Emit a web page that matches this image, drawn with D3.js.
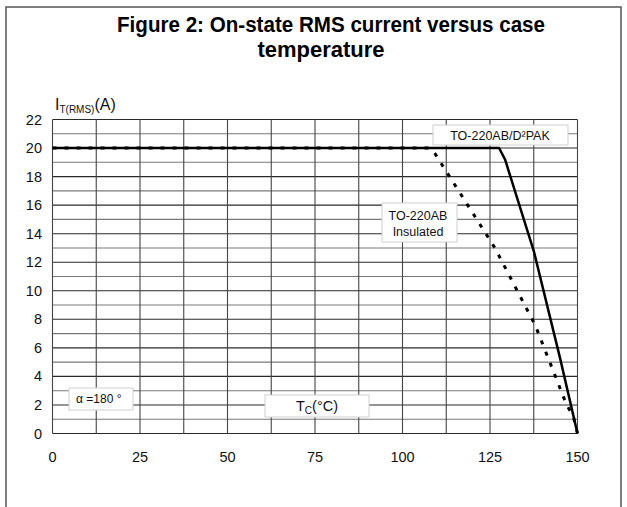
<!DOCTYPE html>
<html lang="en">
<head>
<meta charset="UTF-8">
<title>Figure 2: On-state RMS current versus case temperature</title>
<script src="https://d3js.org/d3.v7.min.js"></script>
<style>
  body { margin: 0; background: #fff; }
  svg { display: block; font-family: "Liberation Sans", Arial, sans-serif; }
</style>
</head>
<body>
<svg id="chart" width="627" height="507"></svg>
<script>
  // tick labels
  const xTickValues = [0, 25, 50, 75, 100, 125, 150];
  const yTickValues = [0, 2, 4, 6, 8, 10, 12, 14, 16, 18, 20, 22];

  // TO-220AB/D²PAK (solid)
  const d2pakTemp = [0, 127.6, 129.3, 137.6, 145.0, 150];
  const d2pakCurrent = [20, 20, 19.2, 12.7, 5.3, 0];

  // TO-220AB Insulated (dotted)
  const insTemp = [0, 107.5, 109.3, 126.4, 137.9, 146.9, 148.8, 150];
  const insCurrent = [20, 20, 19.6, 13.0, 7.6, 2.0, 1.2, 0];

  const svg = d3.select("#chart");

  // outer frame
  svg.append("rect")
    .attr("x", 6).attr("y", 7)
    .attr("width", 615).attr("height", 520)
    .attr("fill", "none").attr("stroke", "#555").attr("stroke-width", 1.5);

  // title
  svg.append("text")
    .attr("x", 331).attr("y", 32)
    .attr("text-anchor", "middle")
    .attr("font-size", 22).attr("font-weight", "bold")
    .attr("textLength", 428).attr("lengthAdjust", "spacingAndGlyphs")
    .text("Figure 2: On-state RMS current versus case");
  svg.append("text")
    .attr("x", 321).attr("y", 57)
    .attr("text-anchor", "middle")
    .attr("font-size", 22).attr("font-weight", "bold")
    .attr("textLength", 127).attr("lengthAdjust", "spacingAndGlyphs")
    .text("temperature");

  const x = d3.scaleLinear().domain([0, 150]).range([52.5, 577.5]);
  const y = d3.scaleLinear().domain([0, 22]).range([433.5, 119.5]);

  // grid
  const g = svg.append("g");
  g.selectAll(".hgrid")
    .data(d3.range(0, 23, 1))
    .join("line")
    .attr("x1", x(0)).attr("x2", x(150))
    .attr("y1", d => y(d)).attr("y2", d => y(d))
    .attr("stroke", d => d % 2 === 0 ? "#2a2a2a" : "#7a7a7a")
    .attr("stroke-width", 1.1);
  g.selectAll(".vgrid")
    .data(d3.range(0, 151, 12.5))
    .join("line")
    .attr("y1", y(0)).attr("y2", y(22))
    .attr("x1", d => x(d)).attr("x2", d => x(d))
    .attr("stroke", "#444")
    .attr("stroke-width", 1.1);

  // axis labels
  svg.append("g").selectAll("text")
    .data(xTickValues)
    .join("text")
    .attr("x", d => x(d)).attr("y", 462)
    .attr("text-anchor", "middle")
    .attr("font-size", 14.5).attr("fill", "#111")
    .text(d => d);
  svg.append("g").selectAll("text")
    .data(yTickValues)
    .join("text")
    .attr("x", 42).attr("y", d => y(d) + 5)
    .attr("text-anchor", "end")
    .attr("font-size", 14.5).attr("fill", "#111")
    .text(d => d);

  // y axis title
  const yt = svg.append("text").attr("x", 55).attr("y", 110).attr("fill", "#111");
  yt.append("tspan").attr("font-size", 16).text("I");
  yt.append("tspan").attr("font-size", 10).attr("dy", 3).text("T(RMS)");
  yt.append("tspan").attr("font-size", 16).attr("dy", -3).text("(A)");

  // annotation boxes
  const box = (bx, by, bw, bh) => svg.append("rect")
    .attr("x", bx).attr("y", by).attr("width", bw).attr("height", bh)
    .attr("fill", "#fff").attr("stroke", "#d0d0d0").attr("stroke-width", 1);

  box(433, 125, 135, 20);
  svg.append("text").attr("x", 500).attr("y", 140)
    .attr("text-anchor", "middle").attr("font-size", 12.5).attr("fill", "#111")
    .text("TO-220AB/D²PAK");

  box(382, 203, 75, 39);
  svg.append("text").attr("x", 418).attr("y", 220)
    .attr("text-anchor", "middle").attr("font-size", 12.5).attr("fill", "#111")
    .text("TO-220AB");
  svg.append("text").attr("x", 418).attr("y", 236)
    .attr("text-anchor", "middle").attr("font-size", 12.5).attr("fill", "#111")
    .text("Insulated");

  box(69, 388, 64, 22);
  svg.append("text").attr("x", 76).attr("y", 403)
    .attr("font-size", 12).attr("fill", "#111")
    .text("α =180 °");

  box(265, 395, 104, 22);
  const tc = svg.append("text").attr("x", 317).attr("y", 411)
    .attr("text-anchor", "middle").attr("fill", "#111");
  tc.append("tspan").attr("font-size", 14.5).text("T");
  tc.append("tspan").attr("font-size", 10).attr("dy", 3).text("C");
  tc.append("tspan").attr("font-size", 14.5).attr("dy", -3).text("(°C)");

  // curves
  const line = d3.line().x(d => x(d[0])).y(d => y(d[1]));

  svg.append("path")
    .attr("d", line(insTemp.map((t, i) => [t, insCurrent[i]])))
    .attr("fill", "none").attr("stroke", "#000")
    .attr("stroke-width", 3).attr("stroke-dasharray", "4,8");

  svg.append("path")
    .attr("d", line(d2pakTemp.map((t, i) => [t, d2pakCurrent[i]])))
    .attr("fill", "none").attr("stroke", "#000")
    .attr("stroke-width", 2.5).attr("stroke-linejoin", "round");
</script>
</body>
</html>
